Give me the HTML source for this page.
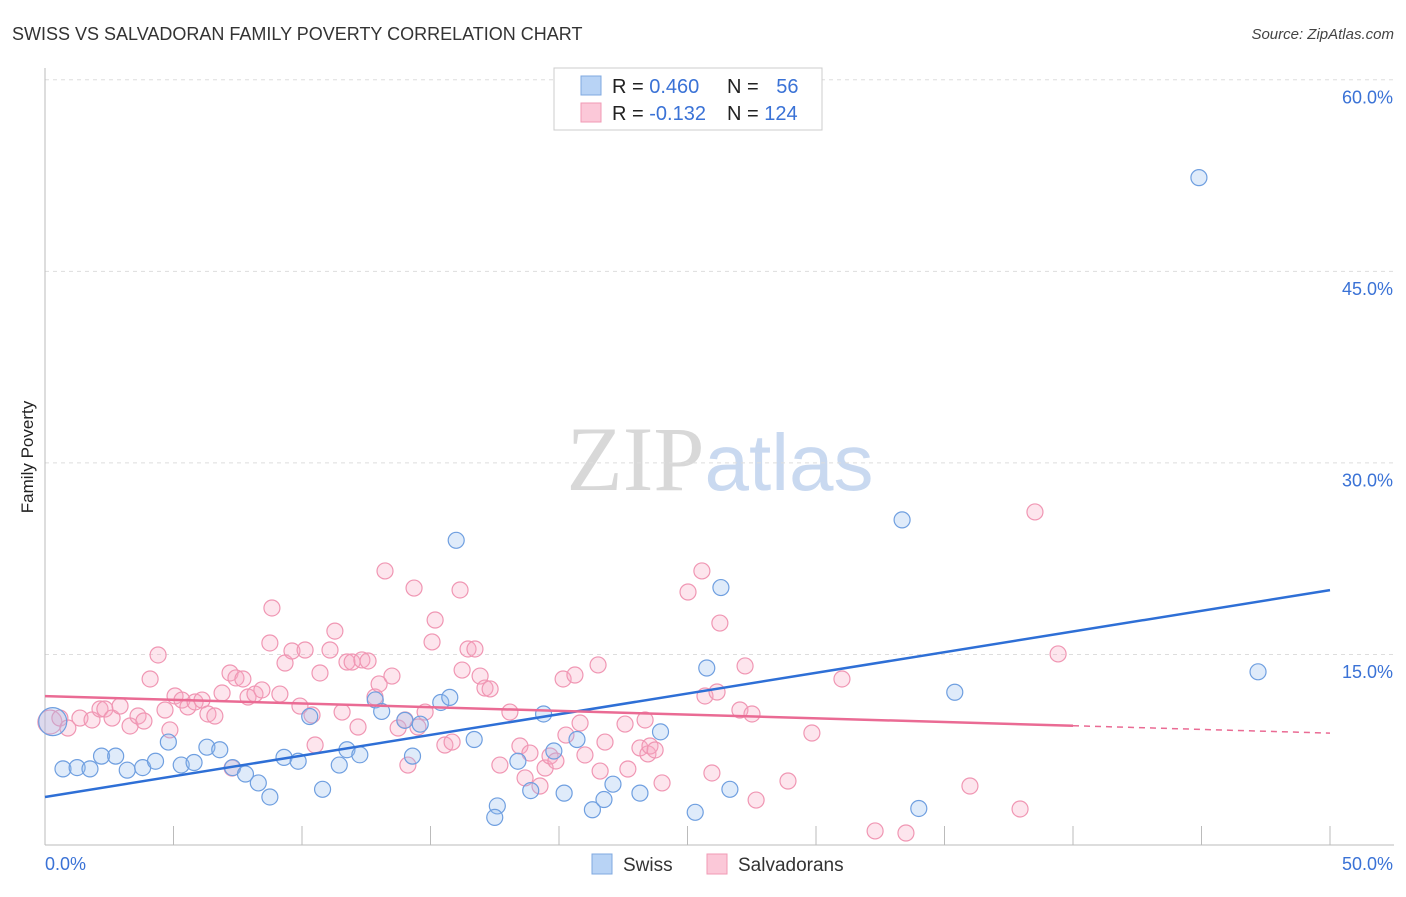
<!DOCTYPE html>
<html><head><meta charset="utf-8"><style>
body{margin:0;background:#fff;font-family:"Liberation Sans",sans-serif;}
</style></head><body>
<svg id="chart" width="1406" height="892" xmlns="http://www.w3.org/2000/svg" font-family="Liberation Sans, sans-serif">
<text x="12" y="40" font-size="18" fill="#333">SWISS VS SALVADORAN FAMILY POVERTY CORRELATION CHART</text>
<text x="1394" y="39" font-size="15" fill="#444" text-anchor="end" font-style="italic">Source: ZipAtlas.com</text>
<text x="720" y="490" font-size="92" text-anchor="middle"><tspan fill="#d8d8d8" style="font-family:'Liberation Serif',serif">ZIP</tspan><tspan fill="#c9d9f0" font-size="80">atlas</tspan></text>
<g id="grid"></g>
<g id="axes"></g>
<g id="pts"></g>
<g id="lines"></g>
<text transform="translate(33,457) rotate(-90)" font-size="17" fill="#222" text-anchor="middle">Family Poverty</text>
<g>
<rect x="554" y="68" width="268" height="62" fill="#fff" stroke="#ccc"/>
<rect x="581" y="76" width="20" height="19" fill="#b8d3f5" stroke="#7fa8e0"/>
<rect x="581" y="103" width="20" height="19" fill="#fbc8d8" stroke="#f09ab5"/>
<text x="612" y="93" font-size="20" fill="#222">R = <tspan fill="#3a72d6">0.460</tspan></text>
<text x="727" y="93" font-size="20" fill="#222">N = <tspan fill="#3a72d6" dx="12">56</tspan></text>
<text x="612" y="120" font-size="20" fill="#222">R = <tspan fill="#3a72d6">-0.132</tspan></text>
<text x="727" y="120" font-size="20" fill="#222">N = <tspan fill="#3a72d6">124</tspan></text>
</g>
<g>
<rect x="592" y="854" width="20" height="20" fill="#b8d3f5" stroke="#7fa8e0"/>
<text x="623" y="871" font-size="19" fill="#333">Swiss</text>
<rect x="707" y="854" width="20" height="20" fill="#fbc8d8" stroke="#f09ab5"/>
<text x="738" y="871" font-size="19" fill="#333">Salvadorans</text>
</g>
</svg>
<script>
const yTicks=[15,30,45,60];
const xTickLabels=["0.0%","50.0%"];
const swissX=[0.3,0.7,1.25,1.75,2.2,2.75,3.2,3.8,4.3,4.8,5.3,5.8,6.3,6.8,7.3,7.8,8.3,8.75,9.3,9.85,10.3,10.8,11.45,11.75,12.25,12.85,13.1,14.0,14.3,14.6,15.4,15.75,16.0,16.7,17.6,17.5,18.4,18.9,19.4,19.8,20.2,20.7,21.3,21.75,22.1,23.15,23.95,25.3,25.75,26.3,26.65,33.35,34.0,35.4,44.9,47.2];
const swissY=[9.7,6.0,6.1,6.0,7.0,7.0,5.9,6.1,6.6,8.1,6.3,6.5,7.7,7.5,6.1,5.6,4.9,3.8,6.9,6.6,10.1,4.4,6.3,7.5,7.1,11.4,10.5,9.8,7.0,9.5,11.2,11.6,23.9,8.3,3.1,2.2,6.6,4.3,10.3,7.4,4.1,8.3,2.8,3.6,4.8,4.1,8.9,2.6,13.9,20.2,4.4,25.5,2.9,12.0,52.3,13.6];
const salvX=[0.19,0.58,0.89,1.36,1.83,2.14,2.33,2.61,2.92,3.31,3.62,3.85,4.09,4.40,4.67,4.86,5.06,5.33,5.56,5.84,6.11,6.34,6.61,6.89,7.20,7.43,7.70,7.90,8.17,8.44,8.75,8.83,9.14,9.34,9.61,9.92,10.12,10.39,10.51,10.70,11.09,11.28,11.56,11.75,11.95,12.18,12.33,12.57,12.84,13.00,13.23,13.50,13.74,14.01,14.12,14.36,14.51,14.79,15.06,15.18,15.56,15.84,16.15,16.23,16.46,16.73,16.93,17.12,17.32,17.70,18.09,18.48,18.68,18.87,19.26,19.46,19.65,19.88,20.16,20.27,20.62,20.82,21.01,21.52,21.60,21.79,22.57,22.68,23.15,23.35,23.46,23.54,23.74,24.01,25.02,25.56,25.68,25.95,26.15,26.26,27.04,27.24,27.51,27.67,28.91,29.84,31.01,32.30,33.50,35.99,37.94,38.52,39.42,7.28];
const salvY=[9.67,9.98,9.20,9.98,9.83,10.69,10.69,9.98,10.92,9.36,10.14,9.75,13.04,14.92,10.61,9.05,11.71,11.39,10.85,11.24,11.39,10.30,10.14,11.94,13.51,13.12,13.04,11.63,11.86,12.18,15.86,18.60,11.86,14.29,15.23,10.92,15.31,10.22,7.87,13.51,15.31,16.79,10.45,14.37,14.37,9.28,14.53,14.45,11.63,12.65,21.50,13.27,9.20,9.83,6.30,20.16,9.28,10.45,15.94,17.66,7.87,8.10,20.01,13.74,15.39,15.39,13.27,12.33,12.26,6.30,10.45,7.79,5.29,7.24,4.66,6.07,7.01,6.62,13.04,8.65,13.35,9.59,7.09,14.14,5.83,8.10,9.51,5.99,7.64,9.83,7.17,7.79,7.48,4.90,19.85,21.50,11.71,5.68,12.02,17.42,10.61,14.06,10.30,3.56,5.05,8.81,13.04,1.14,0.98,4.66,2.86,26.12,15.00,6.07];
const swissTrend=[3.8,20.0];
const salvTrend=[11.7,8.8];
const salvSolidEnd=40;
const X0=45,X1=1330,Y0=845.5,PY=12.77;
const xs=v=>X0+v*(X1-X0)/50, ys=v=>Y0-v*PY;
const NS="http://www.w3.org/2000/svg";
function mk(t,a,p){const e=document.createElementNS(NS,t);for(const k in a)e.setAttribute(k,a[k]);p.appendChild(e);return e;}
const grid=document.getElementById('grid'),axes=document.getElementById('axes'),pts=document.getElementById('pts'),lines=document.getElementById('lines');
for(const t of yTicks){
 const l=mk('line',{x1:45,x2:1394,y1:ys(t)+0.5,y2:ys(t)+0.5,stroke:'#ddd','stroke-dasharray':'4,4'},grid);
 
 
 const tx=mk('text',{x:1393,y:ys(t)+24,'font-size':18,fill:'#3a72d6','text-anchor':'end'},axes);
 tx.textContent=t.toFixed(1)+'%';
 
 
}
mk('line',{x1:45,x2:45,y1:68,y2:845,stroke:'#bbb'},axes);
mk('line',{x1:45,x2:1394,y1:845,y2:845,stroke:'#bbb'},axes);
for(let i=0;i<=10;i++){const t=mk('line',{x1:xs(i*5),x2:xs(i*5),y1:826,y2:845,stroke:'#bbb'},axes);
 
 }
const xl0=mk('text',{x:45,y:870,'font-size':18,fill:'#3a72d6'},axes);xl0.textContent=xTickLabels[0];


const xl1=mk('text',{x:1393,y:870,'font-size':18,fill:'#3a72d6','text-anchor':'end'},axes);xl1.textContent=xTickLabels[1];


salvX.forEach((x,i)=>{const c=mk('circle',{cx:xs(x),cy:ys(salvY[i]),r:i==0?12:8,fill:'rgba(248,170,195,0.3)',stroke:'#f096b3','stroke-width':1.2},pts);
 
 });
swissX.forEach((x,i)=>{const c=mk('circle',{cx:xs(x),cy:ys(swissY[i]),r:i==0?14:8,fill:'rgba(150,190,240,0.3)',stroke:'#6f9fe0','stroke-width':1.2},pts);
 
 });
const bl=mk('line',{x1:xs(0),y1:ys(swissTrend[0]),x2:xs(50),y2:ys(swissTrend[1]),stroke:'#2e6fd6','stroke-width':2.5},lines);


const sy=v=>salvTrend[0]+(salvTrend[1]-salvTrend[0])*v/50;
const pl=mk('line',{x1:xs(0),y1:ys(sy(0)),x2:xs(salvSolidEnd),y2:ys(sy(salvSolidEnd)),stroke:'#ea6b94','stroke-width':2.5},lines);


const pd=mk('line',{x1:xs(salvSolidEnd),y1:ys(sy(salvSolidEnd)),x2:xs(50),y2:ys(sy(50)),stroke:'#ea6b94','stroke-width':1.5,'stroke-dasharray':'6,5'},lines);


</script>
</body></html>
